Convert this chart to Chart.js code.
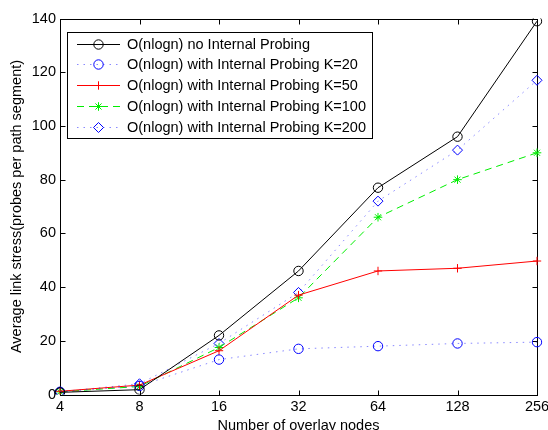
<!DOCTYPE html>
<html>
<head>
<meta charset="utf-8">
<script src="https://cdn.jsdelivr.net/npm/chart.js@4/dist/chart.umd.min.js"></script>
<style>
html, body { margin: 0; padding: 0; background: #fff; }
canvas { display: block; }
</style>
</head>
<body>
<canvas id="chart" width="548" height="430"></canvas>
<script>
'use strict';

// values
var nodeCounts = ['4', '8', '16', '32', '64', '128', '256'];
var noProbing = [0.8, 1.8, 22, 46, 77, 96, 139];
var probingK20 = [1, 3.2, 13, 17, 18, 19, 19.5];
var probingK50 = [1.2, 3.5, 16.3, 37, 46, 47, 49.7];
var probingK100 = [1, 3, 17.5, 36, 66, 80, 90];
var probingK200 = [1, 4, 19, 38, 72, 91, 117];

var seriesLabels = [
    'O(nlogn) no Internal Probing',
    'O(nlogn) with Internal Probing K=20',
    'O(nlogn) with Internal Probing K=50',
    'O(nlogn) with Internal Probing K=100',
    'O(nlogn) with Internal Probing K=200'
];

var FONT = 'Liberation Sans, Arial, Helvetica, sans-serif';
var FONT_SIZE = 14.5;

Chart.defaults.font.family = FONT;
Chart.defaults.font.size = FONT_SIZE;
Chart.defaults.color = '#000';

var makeSeries = function(label, data, color, lineColor, dash, style, radius) {
    return {
        label: label,
        data: data,
        borderColor: lineColor,
        borderWidth: 1,
        borderDash: dash,
        pointStyle: style,
        pointRadius: radius,
        pointBorderColor: color,
        pointBackgroundColor: 'rgba(0,0,0,0)',
        pointBorderWidth: 1,
        tension: 0,
        fill: false
    };
};

// matlab style axes box with inward ticks on all four sides
var axesBox = {
    id: 'axesBox',
    beforeDatasetsDraw: function(chart) {
        var ctx = chart.ctx;
        var area = chart.chartArea;
        var xs = chart.scales.x;
        var ys = chart.scales.y;
        var len = 5;
        var l = Math.round(area.left) + 0.5;
        var r = Math.round(area.right) + 0.5;
        var t = Math.round(area.top) + 0.5;
        var b = Math.round(area.bottom) + 0.5;
        ctx.save();
        ctx.strokeStyle = '#000';
        ctx.lineWidth = 1;
        ctx.beginPath();
        xs.ticks.forEach(function(tick, i) {
            var x = Math.round(xs.getPixelForTick(i)) + 0.5;
            ctx.moveTo(x, b); ctx.lineTo(x, b - len);
            ctx.moveTo(x, t); ctx.lineTo(x, t + len);
        });
        ys.ticks.forEach(function(tick) {
            var y = Math.round(ys.getPixelForValue(tick.value)) + 0.5;
            ctx.moveTo(l, y); ctx.lineTo(l + len, y);
            ctx.moveTo(r, y); ctx.lineTo(r - len, y);
        });
        ctx.stroke();
        ctx.strokeRect(l, t, r - l, b - t);
        ctx.restore();
    }
};

// legend box drawn inside the plot like matlab does
var boxLegend = {
    id: 'boxLegend',
    afterDraw: function(chart, args, opts) {
        var ctx = chart.ctx;
        ctx.save();
        ctx.fillStyle = '#fff';
        ctx.fillRect(opts.x, opts.y, opts.width, opts.height);
        ctx.strokeStyle = '#000';
        ctx.lineWidth = 1;
        ctx.strokeRect(opts.x + 0.5, opts.y + 0.5, opts.width, opts.height);
        ctx.font = FONT_SIZE + 'px ' + FONT;
        ctx.textBaseline = 'middle';
        ctx.textAlign = 'left';
        chart.data.datasets.forEach(function(ds, i) {
            var y = Math.round(opts.y + opts.firstRow + i * opts.rowHeight) + 0.5;
            ctx.strokeStyle = ds.borderColor;
            ctx.lineWidth = ds.borderWidth;
            ctx.setLineDash(ds.borderDash || []);
            ctx.beginPath();
            ctx.moveTo(opts.x + opts.lineStart, y);
            ctx.lineTo(opts.x + opts.lineEnd, y);
            ctx.stroke();
            ctx.setLineDash([]);
            ctx.strokeStyle = ds.pointBorderColor;
            ctx.fillStyle = 'rgba(0,0,0,0)';
            Chart.helpers.drawPoint(ctx, {
                pointStyle: ds.pointStyle,
                radius: ds.pointRadius,
                borderWidth: 1,
                rotation: 0
            }, opts.x + (opts.lineStart + opts.lineEnd) / 2, y);
            ctx.fillStyle = '#000';
            ctx.fillText(ds.label, opts.x + opts.textStart, y);
        });
        ctx.restore();
    }
};

var datasets = [
    makeSeries(seriesLabels[0], noProbing, '#000000', '#000000', [], 'circle', 4.7),
    makeSeries(seriesLabels[1], probingK20, '#0000ff', 'rgba(40,40,255,0.55)', [1.5, 5], 'circle', 4.7),
    makeSeries(seriesLabels[2], probingK50, '#ff0000', '#ff0000', [], 'cross', 4.2),
    makeSeries(seriesLabels[3], probingK100, '#00ee00', '#00ee00', [7, 5], 'star', 4.3),
    makeSeries(seriesLabels[4], probingK200, '#0000ff', 'rgba(40,40,255,0.55)', [1.5, 5], 'rectRot', 5)
];

new Chart(document.getElementById('chart'), {
    type: 'line',
    data: {
        labels: nodeCounts,
        datasets: datasets
    },
    options: {
        responsive: false,
        animation: false,
        events: [],
        layout: {
            padding: { top: 18.5, right: 11, bottom: 0, left: 0 }
        },
        plugins: {
            legend: { display: false },
            tooltip: { enabled: false },
            boxLegend: {
                x: 67, y: 32, width: 305, height: 106,
                firstRow: 11.5, rowHeight: 20.8,
                lineStart: 10, lineEnd: 53, textStart: 60
            }
        },
        scales: {
            x: {
                type: 'category',
                offset: false,
                grid: { display: false, drawTicks: false },
                border: { display: false },
                ticks: { padding: 3.5, maxRotation: 0, autoSkip: false },
                title: {
                    display: true,
                    text: 'Number of overlay nodes',
                    padding: { top: 0, bottom: -4.5 }
                },
                afterFit: function(scale) {
                    scale.height = 35.5;
                    scale.paddingLeft = 0;
                    scale.paddingRight = 0;
                }
            },
            y: {
                min: 0,
                max: 140,
                grid: { display: false, drawTicks: false },
                border: { display: false },
                ticks: { stepSize: 20, padding: 4 },
                title: {
                    display: true,
                    text: 'Average link stress(probes per path segment)',
                    padding: { top: 8, bottom: 0 }
                },
                afterFit: function(scale) {
                    scale.width = 60;
                }
            }
        }
    },
    plugins: [axesBox, boxLegend]
});
</script>
</body>
</html>
